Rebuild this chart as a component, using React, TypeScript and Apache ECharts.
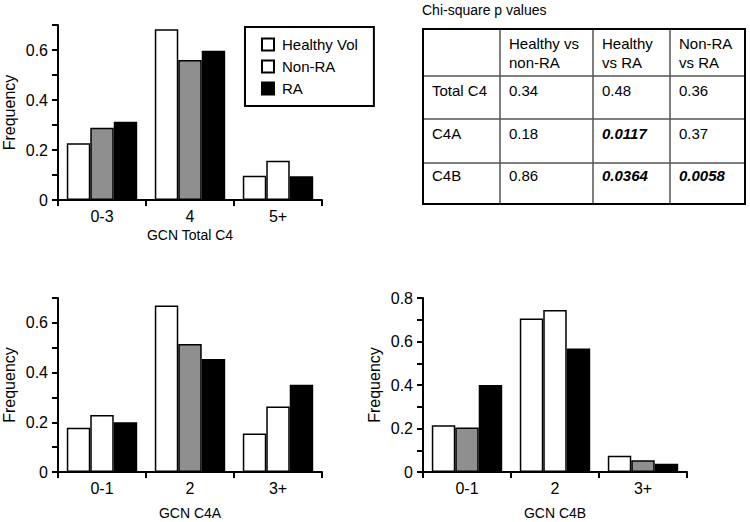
import React, { useEffect, useRef } from "react";
import * as echarts from "echarts";

// ---- data ----
const seriesNames = ["Healthy Vol", "Non-RA", "RA"];

const catsTotal = ["0-3", "4", "5+"];
const healthyTotal = [0.227, 0.683, 0.097];
const nonRaTotal = [0.289, 0.56, 0.157];
const raTotal = [0.313, 0.597, 0.095];

const catsC4A = ["0-1", "2", "3+"];
const healthyC4A = [0.178, 0.67, 0.155];
const nonRaC4A = [0.229, 0.515, 0.264];
const raC4A = [0.2, 0.455, 0.351];

const catsC4B = ["0-1", "2", "3+"];
const healthyC4B = [0.215, 0.706, 0.075];
const nonRaC4B = [0.205, 0.745, 0.054];
const raC4B = [0.4, 0.568, 0.038];

const yTicksTop = { max: 0.7 };
const yTicksC4A = { max: 0.7 };
const yTicksC4B = { max: 0.8 };

const tableTitle = "Chi-square p values";
const tableColumns = ["Healthy vs\nnon-RA", "Healthy\nvs RA", "Non-RA\nvs RA"];
const tableRows = ["Total C4", "C4A", "C4B"];
const pTotalC4 = ["0.34", "0.48", "0.36"];
const pC4A = ["0.18", "0.0117", "0.37"];
const pC4B = ["0.86", "0.0364", "0.0058"];

// ---- styles (fill of the Non-RA bars varies per panel in the original) ----
const nonRaFillTotal = ["gray", "gray", "white"];
const nonRaFillC4A = ["white", "gray", "white"];
const nonRaFillC4B = ["gray", "white", "gray"];

const FONT = "'Liberation Sans', Arial, Helvetica, sans-serif";
const GRAY = "#8f8f8f";
const fillColor = (f: string) => (f === "gray" ? GRAY : f === "black" ? "#000" : "#fff");

const grids = [
  { left: 58, top: 25, width: 264, height: 175 },
  { left: 58, top: 298, width: 264, height: 174 },
  { left: 423, top: 298, width: 264, height: 174 },
];

export default function App() {
  const ref = useRef<HTMLDivElement>(null);

  useEffect(() => {
    if (!ref.current) return;
    const chart = echarts.init(ref.current, undefined, { renderer: "svg" });

    const panels = [
      { cats: catsTotal, hv: healthyTotal, nr: nonRaTotal, ra: raTotal, nrFill: nonRaFillTotal, max: yTicksTop.max, name: "GCN Total C4", nameGap: 28 },
      { cats: catsC4A, hv: healthyC4A, nr: nonRaC4A, ra: raC4A, nrFill: nonRaFillC4A, max: yTicksC4A.max, name: "GCN C4A", nameGap: 34 },
      { cats: catsC4B, hv: healthyC4B, nr: nonRaC4B, ra: raC4B, nrFill: nonRaFillC4B, max: yTicksC4B.max, name: "GCN C4B", nameGap: 34 },
    ];

    const axisLine = { show: true, lineStyle: { color: "#000", width: 2 } };
    const axisTick = { show: true, length: 6, lineStyle: { color: "#000", width: 2 } };

    const xAxis = panels.map((p, i) => ({
      type: "category",
      gridIndex: i,
      data: p.cats,
      name: p.name,
      nameLocation: "middle",
      nameGap: p.nameGap,
      nameTextStyle: { fontFamily: FONT, fontSize: 14, color: "#000" },
      axisLine,
      axisTick: { ...axisTick, alignWithLabel: false },
      axisLabel: { fontFamily: FONT, fontSize: 16, color: "#000", margin: 8 },
      splitLine: { show: false },
    }));

    const yAxis = panels.map((p, i) => ({
      type: "value",
      gridIndex: i,
      min: 0,
      max: p.max,
      interval: 0.1,
      name: "Frequency",
      nameLocation: "middle",
      nameGap: 41,
      nameTextStyle: { fontFamily: FONT, fontSize: 16, color: "#000" },
      axisLine,
      axisTick,
      axisLabel: {
        fontFamily: FONT,
        fontSize: 16,
        color: "#000",
        margin: 10,
        formatter: (v: number) => {
          const k = Math.round(v * 10);
          if (k % 2 !== 0) return "";
          return k === 0 ? "0" : (k / 10).toFixed(1);
        },
      },
      splitLine: { show: false },
    }));

    const border = { borderColor: "#000", borderWidth: 1.5 };
    const series: any[] = [];
    panels.forEach((p, i) => {
      series.push({
        type: "bar",
        name: seriesNames[0],
        xAxisIndex: i,
        yAxisIndex: i,
        barGap: "0%",
        barCategoryGap: "20%",
        itemStyle: { color: "#fff", ...border },
        data: p.hv,
      });
      series.push({
        type: "bar",
        name: seriesNames[1],
        xAxisIndex: i,
        yAxisIndex: i,
        barGap: "0%",
        barCategoryGap: "20%",
        itemStyle: { color: "#fff", ...border },
        data: p.nr.map((v, j) => ({ value: v, itemStyle: { color: fillColor(p.nrFill[j]) } })),
      });
      series.push({
        type: "bar",
        name: seriesNames[2],
        xAxisIndex: i,
        yAxisIndex: i,
        barGap: "0%",
        barCategoryGap: "20%",
        itemStyle: { color: "#000", ...border },
        data: p.ra,
      });
    });

    // ---- table built from the p-value arrays ----
    const tX = 423, tY = 29, tW = 322, tH = 175;
    const colX = [423, 500, 593, 670, 745];
    const rowY = [29, 76, 119, 163, 204];
    const graphic: any[] = [];
    graphic.push({
      type: "text",
      x: 422,
      y: 10,
      style: { text: tableTitle, fontFamily: FONT, fontSize: 14, fill: "#000", verticalAlign: "middle" },
    });
    for (let c = 1; c < colX.length - 1; c++) {
      graphic.push({ type: "line", shape: { x1: colX[c], y1: tY, x2: colX[c], y2: tY + tH }, style: { stroke: "#555", lineWidth: 1.5 } });
    }
    for (let r = 1; r < rowY.length - 1; r++) {
      graphic.push({ type: "line", shape: { x1: tX, y1: rowY[r], x2: tX + tW, y2: rowY[r] }, style: { stroke: "#555", lineWidth: 1.5 } });
    }
    graphic.push({ type: "rect", shape: { x: tX, y: tY, width: tW, height: tH }, style: { fill: "none", stroke: "#000", lineWidth: 2 } });
    tableColumns.forEach((t, c) => {
      graphic.push({
        type: "text",
        x: colX[c + 1] + 9,
        y: 52.5,
        style: { text: t, fontFamily: FONT, fontSize: 15, lineHeight: 19, fill: "#000", verticalAlign: "middle" },
      });
    });
    const rowsVals = [pTotalC4, pC4A, pC4B];
    const rowTextY = [90, 133, 175];
    tableRows.forEach((rName, r) => {
      graphic.push({
        type: "text",
        x: 432,
        y: rowTextY[r],
        style: { text: rName, fontFamily: FONT, fontSize: 15, fill: "#000", verticalAlign: "middle" },
      });
      rowsVals[r].forEach((v, c) => {
        const sig = parseFloat(v) < 0.05;
        graphic.push({
          type: "text",
          x: colX[c + 1] + 9,
          y: rowTextY[r],
          style: {
            text: v,
            fontFamily: FONT,
            fontSize: 15,
            fontWeight: sig ? "bold" : "normal",
            fontStyle: sig ? "italic" : "normal",
            fill: "#000",
            verticalAlign: "middle",
          },
        });
      });
    });

    chart.setOption({
      animation: false,
      backgroundColor: "#fff",
      textStyle: { fontFamily: FONT },
      grid: grids.map((g) => ({ ...g, containLabel: false })),
      legend: {
        data: seriesNames,
        orient: "vertical",
        left: 245,
        top: 27,
        padding: [10, 16, 10, 16],
        itemGap: 7,
        itemWidth: 12,
        itemHeight: 12,
        borderColor: "#000",
        borderWidth: 2,
        selectedMode: false,
        icon: "rect",
        textStyle: { fontFamily: FONT, fontSize: 15, color: "#000", padding: [0, 0, 0, 3] },
      },
      xAxis,
      yAxis,
      series,
      graphic,
    });

    return () => chart.dispose();
  }, []);

  return (
    <div
      ref={ref}
      style={{ position: "fixed", left: 0, top: 0, width: 750, height: 522, background: "#fff" }}
    />
  );
}
